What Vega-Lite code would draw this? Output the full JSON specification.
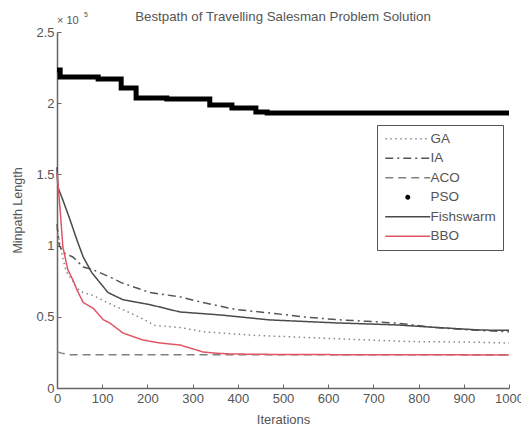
{
  "$schema": "https://vega.github.io/schema/vega-lite/v6.json",
  "autosize": "none",
  "width": 452,
  "height": 356,
  "padding": {"left": 57, "top": 32, "right": 12, "bottom": 40},
  "background": "white",
  "config": {
    "font": "Liberation Sans",
    "view": {"stroke": null},
    "axis": {
      "domainColor": "#666",
      "domainWidth": 1.5,
      "tickColor": "#666",
      "labelColor": "#555",
      "titleColor": "#555",
      "labelFontSize": 13,
      "titleFontSize": 13,
      "titleFontWeight": "normal",
      "grid": false
    }
  },
  "title": {
    "text": "Bestpath of Travelling Salesman Problem Solution",
    "fontSize": 13.3,
    "fontWeight": "normal",
    "color": "#555",
    "offset": -12
  },
  "datasets": {
    "curves": [
      {"algo": "GA", "iter": 0, "len": 112000},
      {"algo": "GA", "iter": 10, "len": 95000},
      {"algo": "GA", "iter": 20, "len": 82000},
      {"algo": "GA", "iter": 35, "len": 75000},
      {"algo": "GA", "iter": 44, "len": 70000},
      {"algo": "GA", "iter": 58, "len": 67000},
      {"algo": "GA", "iter": 80, "len": 65000},
      {"algo": "GA", "iter": 111, "len": 60000},
      {"algo": "GA", "iter": 146, "len": 55000},
      {"algo": "GA", "iter": 190, "len": 48500},
      {"algo": "GA", "iter": 215, "len": 44000},
      {"algo": "GA", "iter": 272, "len": 42500},
      {"algo": "GA", "iter": 323, "len": 39500},
      {"algo": "GA", "iter": 435, "len": 37000},
      {"algo": "GA", "iter": 580, "len": 35100},
      {"algo": "GA", "iter": 690, "len": 33700},
      {"algo": "GA", "iter": 780, "len": 32600},
      {"algo": "GA", "iter": 900, "len": 32300},
      {"algo": "GA", "iter": 1000, "len": 31600},

      {"algo": "IA", "iter": 0, "len": 115000},
      {"algo": "IA", "iter": 5, "len": 100000},
      {"algo": "IA", "iter": 15, "len": 95000},
      {"algo": "IA", "iter": 35, "len": 92000},
      {"algo": "IA", "iter": 58, "len": 85000},
      {"algo": "IA", "iter": 80, "len": 83000},
      {"algo": "IA", "iter": 117, "len": 78000},
      {"algo": "IA", "iter": 142, "len": 74000},
      {"algo": "IA", "iter": 206, "len": 67000},
      {"algo": "IA", "iter": 272, "len": 64000},
      {"algo": "IA", "iter": 323, "len": 60000},
      {"algo": "IA", "iter": 398, "len": 55000},
      {"algo": "IA", "iter": 471, "len": 52700},
      {"algo": "IA", "iter": 544, "len": 50000},
      {"algo": "IA", "iter": 619, "len": 48000},
      {"algo": "IA", "iter": 686, "len": 46800},
      {"algo": "IA", "iter": 752, "len": 45600},
      {"algo": "IA", "iter": 825, "len": 42800},
      {"algo": "IA", "iter": 920, "len": 40700},
      {"algo": "IA", "iter": 1000, "len": 39500},

      {"algo": "ACO", "iter": 0, "len": 25500},
      {"algo": "ACO", "iter": 10, "len": 24500},
      {"algo": "ACO", "iter": 25, "len": 23400},
      {"algo": "ACO", "iter": 1000, "len": 23300},

      {"algo": "Fishswarm", "iter": 0, "len": 155000},
      {"algo": "Fishswarm", "iter": 2, "len": 141000},
      {"algo": "Fishswarm", "iter": 13, "len": 132000},
      {"algo": "Fishswarm", "iter": 29, "len": 118000},
      {"algo": "Fishswarm", "iter": 44, "len": 104000},
      {"algo": "Fishswarm", "iter": 58, "len": 92000},
      {"algo": "Fishswarm", "iter": 77, "len": 81000},
      {"algo": "Fishswarm", "iter": 95, "len": 74000},
      {"algo": "Fishswarm", "iter": 113, "len": 67000},
      {"algo": "Fishswarm", "iter": 146, "len": 62000},
      {"algo": "Fishswarm", "iter": 206, "len": 58500},
      {"algo": "Fishswarm", "iter": 272, "len": 53400},
      {"algo": "Fishswarm", "iter": 361, "len": 51300},
      {"algo": "Fishswarm", "iter": 471, "len": 47800},
      {"algo": "Fishswarm", "iter": 619, "len": 45700},
      {"algo": "Fishswarm", "iter": 752, "len": 44300},
      {"algo": "Fishswarm", "iter": 825, "len": 42800},
      {"algo": "Fishswarm", "iter": 936, "len": 40700},
      {"algo": "Fishswarm", "iter": 1000, "len": 40500},

      {"algo": "BBO", "iter": 0, "len": 151000},
      {"algo": "BBO", "iter": 7, "len": 125000},
      {"algo": "BBO", "iter": 13, "len": 99000},
      {"algo": "BBO", "iter": 24, "len": 83000},
      {"algo": "BBO", "iter": 35, "len": 76000},
      {"algo": "BBO", "iter": 44, "len": 69000},
      {"algo": "BBO", "iter": 58, "len": 60000},
      {"algo": "BBO", "iter": 80, "len": 56000},
      {"algo": "BBO", "iter": 102, "len": 48000},
      {"algo": "BBO", "iter": 117, "len": 45600},
      {"algo": "BBO", "iter": 146, "len": 38600},
      {"algo": "BBO", "iter": 190, "len": 33700},
      {"algo": "BBO", "iter": 228, "len": 31600},
      {"algo": "BBO", "iter": 272, "len": 30200},
      {"algo": "BBO", "iter": 294, "len": 28100},
      {"algo": "BBO", "iter": 323, "len": 25300},
      {"algo": "BBO", "iter": 345, "len": 24600},
      {"algo": "BBO", "iter": 383, "len": 23900},
      {"algo": "BBO", "iter": 500, "len": 23500},
      {"algo": "BBO", "iter": 1000, "len": 23200}
    ],
    "pso": [
      {"algo": "PSO", "iter": 0, "len": 223300},
      {"algo": "PSO", "iter": 7, "len": 218400},
      {"algo": "PSO", "iter": 91, "len": 217000},
      {"algo": "PSO", "iter": 142, "len": 210700},
      {"algo": "PSO", "iter": 175, "len": 203700},
      {"algo": "PSO", "iter": 243, "len": 203000},
      {"algo": "PSO", "iter": 338, "len": 198700},
      {"algo": "PSO", "iter": 387, "len": 196600},
      {"algo": "PSO", "iter": 440, "len": 193800},
      {"algo": "PSO", "iter": 465, "len": 193100},
      {"algo": "PSO", "iter": 1000, "len": 193100}
    ],
    "scale": [
      {"iter": 0, "len": 250000, "txt": "× 10", "sup": "5"}
    ]
  },
  "layer": [
    {
      "data": {"name": "pso"},
      "mark": {"type": "line", "interpolate": "step-after", "strokeWidth": 5, "strokeCap": "butt"},
      "encoding": {
        "x": {
          "field": "iter", "type": "quantitative",
          "scale": {"domain": [0, 1000], "nice": false},
          "axis": {"title": "Iterations", "values": [0,100,200,300,400,500,600,700,800,900,1000], "format": "d", "tickSize": -4, "labelPadding": 8, "titlePadding": 8, "labelFlush": false}
        },
        "y": {
          "field": "len", "type": "quantitative",
          "scale": {"domain": [0, 250000], "nice": false},
          "axis": {"title": "Minpath Length", "titleFontSize": 12.5, "values": [0,50000,100000,150000,200000,250000], "labelExpr": "datum.value / 100000", "tickSize": -4, "labelPadding": 7, "titlePadding": 11}
        },
        "color": {"field": "algo", "type": "nominal"},
        "strokeDash": {"field": "algo", "type": "nominal"}
      }
    },
    {
      "data": {"name": "curves"},
      "mark": {"type": "line", "strokeWidth": 1.5},
      "encoding": {
        "x": {"field": "iter", "type": "quantitative"},
        "y": {"field": "len", "type": "quantitative"},
        "color": {
          "field": "algo", "type": "nominal",
          "scale": {
            "domain": ["GA", "IA", "ACO", "PSO", "Fishswarm", "BBO"],
            "range": ["#888888", "#555555", "#808080", "#000000", "#4a4a4a", "#e05565"]
          },
          "legend": {
            "title": null,
            "orient": "none",
            "legendX": 320,
            "legendY": 93,
            "strokeColor": "#555",
            "fillColor": "white",
            "padding": 7,
            "symbolType": "M-4.5,0H4.5",
            "symbolSize": 100,
            "symbolOffset": 17,
            "symbolStrokeWidth": 1.5,
            "labelFontSize": 13.5,
            "labelColor": "#555",
            "labelOffset": 16,
            "rowPadding": 4.5,
            "encode": {
              "symbols": {
                "update": {
                  "shape": {"signal": "datum.value === 'PSO' ? 'circle' : 'M-4.5,0H4.5'"},
                  "size": {"signal": "datum.value === 'PSO' ? 12 : 100"},
                  "fill": {"signal": "datum.value === 'PSO' ? '#000' : 'transparent'"}
                }
              }
            }
          }
        },
        "strokeDash": {
          "field": "algo", "type": "nominal",
          "scale": {
            "domain": ["GA", "IA", "ACO", "PSO", "Fishswarm", "BBO"],
            "range": [[1.5, 3.5], [8, 4, 2, 4], [8, 5], [1, 0], [1, 0], [1, 0]]
          }
        }
      }
    },
    {
      "data": {"name": "scale"},
      "mark": {"type": "text", "align": "left", "baseline": "middle", "dy": -11, "fontSize": 11, "color": "#555"},
      "encoding": {
        "x": {"field": "iter", "type": "quantitative"},
        "y": {"field": "len", "type": "quantitative"},
        "text": {"field": "txt"}
      }
    },
    {
      "data": {"name": "scale"},
      "mark": {"type": "text", "align": "left", "baseline": "middle", "dx": 27, "dy": -17, "fontSize": 7, "color": "#555"},
      "encoding": {
        "x": {"field": "iter", "type": "quantitative"},
        "y": {"field": "len", "type": "quantitative"},
        "text": {"field": "sup"}
      }
    }
  ]
}
